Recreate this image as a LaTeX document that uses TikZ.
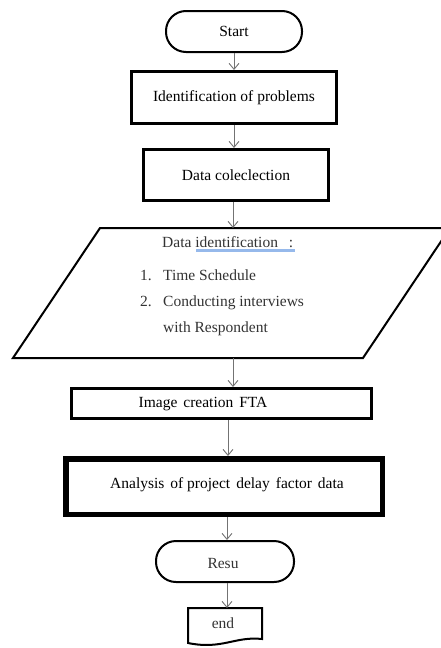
\documentclass[tikz,border=0pt]{standalone}
\usepackage{fontspec}
\setmainfont{Liberation Serif}
\usetikzlibrary{arrows.meta}
\definecolor{spellblue}{RGB}{150,185,235}
\begin{document}
\begin{tikzpicture}[x=1pt,y=-1pt,
  font=\fontsize{15.5}{18}\selectfont,
  term/.style={draw, line width=2pt, rounded corners=20pt, inner sep=0pt},
  procbox/.style={draw, line width=3pt, inner sep=0pt},
  arr/.style={draw=black!55, line width=0.9pt, -{Straight Barb[length=6pt,width=10pt]}},
  lbl/.style={inner sep=0pt, anchor=base west, text=black!80}]
\useasboundingbox (0,0) rectangle (441,648);

% terminator Start
\node[term, minimum width=136pt, minimum height=41pt] (start) at (234,31.5) {Start};
% process boxes
\node[procbox, minimum width=205pt, minimum height=52pt] (idp) at (234,97.5) {Identification of problems};
\node[procbox, minimum width=185pt, minimum height=51pt] (dc) at (236,175) {Data coleclection};

% parallelogram
\coordinate (p1) at (100,228);
\coordinate (p2) at (450,228);
\coordinate (p3) at (363,358);
\coordinate (p4) at (13,358);
\coordinate (pb) at (233,358);
\draw[line width=2pt, line join=miter] (p1) -- (p2) -- (p3) -- (p4) -- cycle;
\draw[spellblue, line width=2.5pt] (196,250.5) -- (295,250.5);
\node[lbl] (di) at (162,247) {Data identification\hspace{11pt}:};
\node[lbl] (n1) at (140,280) {1.};
\node[lbl] (t1) at (163,280) {Time Schedule};
\node[lbl] (n2) at (140,306) {2.};
\node[lbl] (t2) at (163,306) {Conducting interviews};
\node[lbl] (t3) at (163,332) {with Respondent};

% FTA box
\node[procbox, minimum width=300pt, minimum height=30pt] (fta) at (221.5,403.5) {};
\node[inner sep=0pt] (ftat) at (203,404) {Image\hspace{6pt}creation\hspace{6pt}FTA};

% analysis box
\node[draw, line width=5.5pt, inner sep=0pt, minimum width=316.5pt, minimum height=55.5pt] (an) at (224,486.5) {};
\node[inner sep=0pt] (ant) at (227,485) {Analysis\hspace{6pt}of project\hspace{6pt}delay\hspace{6pt}factor\hspace{6pt}data};

% Resu terminator
\node[term, minimum width=138pt, minimum height=41pt] (resu) at (225,561.5) {};
\node[inner sep=0pt, text=black!80] (resut) at (223,563) {Resu};

% end document shape
\coordinate (e1) at (188,608);
\coordinate (e2) at (262,608);
\coordinate (e3) at (262,639);
\coordinate (e4) at (188,643);
\draw[line width=2pt, line join=miter] (e4) -- (e1) -- (e2) -- (e3) .. controls (235,636) and (222,650) .. (e4) -- cycle;
\node[inner sep=0pt, text=black!80] (endt) at (223,623) {end};

% connectors
\draw[arr] (start.south) -- (start.south |- idp.north);
\draw[arr] (idp.south) -- (idp.south |- dc.north);
\draw[arr] ([xshift=-3pt]dc.south) -- ([xshift=-3pt]dc.south |- p1);
\draw[arr] (pb) -- (pb |- fta.north);
\draw[arr] ([xshift=6.5pt]fta.south) -- ([xshift=6.5pt]fta.south |- an.north);
\draw[arr] ([xshift=3pt]an.south) -- ([xshift=3pt]an.south |- resu.north);
\draw[arr] ([xshift=2pt]resu.south) -- ([xshift=2pt]resu.south |- e1);
\end{tikzpicture}
\end{document}
